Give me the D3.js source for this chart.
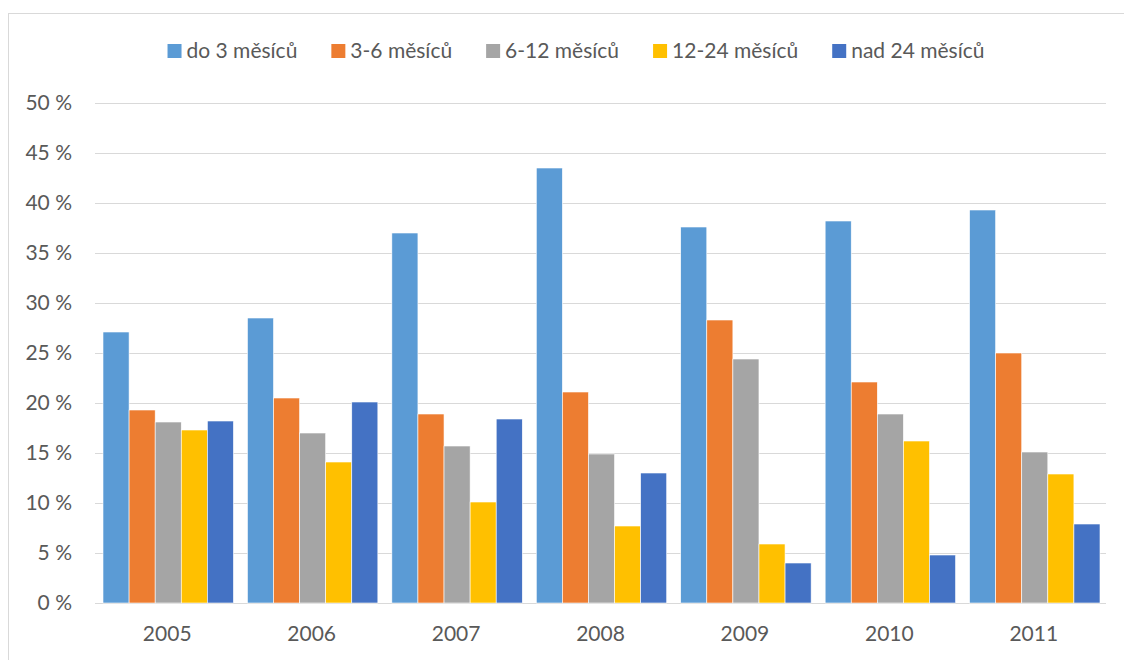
<!DOCTYPE html>
<html><head><meta charset="utf-8">
<script src="https://cdn.jsdelivr.net/npm/d3@7"></script>
<style>body{margin:0;background:#fff}svg{display:block}text{font-family:Lato,"Open Sans",sans-serif;fill:#595959}</style>
</head><body>
<svg id="c" width="1124" height="660"></svg>
<script>
const years = ["2005","2006","2007","2008","2009","2010","2011"];
const seriesNames = ["do 3 měsíců","3-6 měsíců","6-12 měsíců","12-24 měsíců","nad 24 měsíců"];
const colors = ["#5b9bd5","#ed7d31","#a5a5a5","#ffc000","#4472c4"];
const s0 = [27.1,28.5,37.0,43.5,37.6,38.2,39.3];
const s1 = [19.3,20.5,18.9,21.1,28.3,22.1,25.0];
const s2 = [18.1,17.0,15.7,14.9,24.4,18.9,15.1];
const s3 = [17.3,14.1,10.1,7.7,5.9,16.2,12.9];
const s4 = [18.2,20.1,18.4,13.0,4.0,4.8,7.9];
const yTicks = [0,5,10,15,20,25,30,35,40,45,50];
const series = [s0,s1,s2,s3,s4];

const FS = 21;
const svg = d3.select("#c");
// border
svg.append("line").attr("x1",8.5).attr("x2",8.5).attr("y1",13).attr("y2",660).attr("stroke","#d9d9d9");
svg.append("line").attr("x1",8).attr("x2",1124).attr("y1",13.5).attr("y2",13.5).attr("stroke","#d9d9d9");

const x0 = d3.scaleBand().domain(years).range([95,1106]).paddingInner(0).paddingOuter(0);
const x1 = d3.scaleBand().domain(d3.range(5)).range([8, x0.bandwidth()-6]);
const y = d3.scaleLinear().domain([0,50]).range([603,103]);

const grid = svg.append("g");
yTicks.forEach(t=>{
  grid.append("line").attr("x1",95).attr("x2",1106).attr("y1",Math.round(y(t))+0.5).attr("y2",Math.round(y(t))+0.5)
    .attr("stroke","#d9d9d9").attr("stroke-width",1);
  svg.append("text").attr("x",72).attr("y",y(t)).attr("dy","0.35em").attr("text-anchor","end")
    .attr("font-size",FS).text(t+" %");
});

const g = svg.append("g");
years.forEach((yr,i)=>{
  series.forEach((s,j)=>{
    g.append("rect").attr("x",x0(yr)+x1(j)).attr("width",x1.bandwidth())
      .attr("y",y(s[i])).attr("height",y(0)-y(s[i])).attr("fill",colors[j])
      .attr("stroke","#fff").attr("stroke-width",0.6);
  });
  svg.append("text").attr("x",x0(yr)+x0.bandwidth()/2).attr("y",634).attr("dy","0.35em")
    .attr("text-anchor","middle").attr("font-size",FS).text(yr);
});

// legend
const lg = svg.append("g");
let cx = 0;
seriesNames.forEach((n,j)=>{
  const it = lg.append("g");
  it.append("rect").attr("x",0).attr("y",-7).attr("width",14).attr("height",14).attr("fill",colors[j]);
  const t = it.append("text").attr("x",19).attr("y",0).attr("dy","0.35em").attr("font-size",FS).text(n);
  const w = 19 + t.node().getComputedTextLength();
  it.attr("transform",`translate(${cx},51)`);
  cx += w + 34;
});
const total = cx - 34;
lg.attr("transform",`translate(${576 - total/2},0)`);
</script>
</body></html>
